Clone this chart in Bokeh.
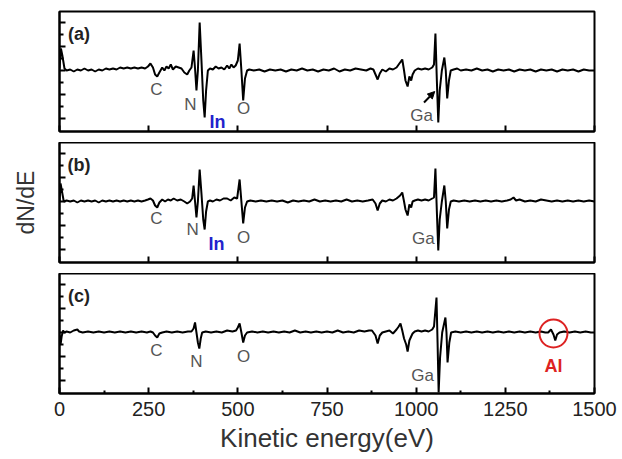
from bokeh.plotting import figure
from bokeh.layouts import column
from bokeh.models import Range1d, FixedTicker, Arrow, NormalHead
from bokeh.core.properties import value
from bokeh.embed import file_html
from bokeh.resources import INLINE

FONT = "Liberation Sans"

# ---------------- data ----------------
x_ticks = [0, 250, 500, 750, 1000, 1250, 1500]
x_tick_labels = ["0", "250", "500", "750", "1000", "1250", "1500"]
y_ticks = [-48, -24, 0, 24, 48]

energy_a = [0, 4, 8, 14, 20, 30, 40, 50, 60, 70, 80, 90, 100, 110, 120, 130, 140, 150, 160, 170,
            180, 190, 200, 210, 220, 230, 240, 248, 255, 262, 268, 274, 280, 288, 294, 300, 306, 312,
            318, 326, 334, 342, 350, 358, 364, 370, 376, 380, 384, 388, 393, 398, 403, 407, 411, 416,
            422, 430, 438, 446, 454, 462, 470, 476, 482, 488, 494, 500, 505, 510, 515, 520, 526, 532,
            545, 560, 575, 590, 605, 620, 635, 650, 665, 680, 695, 710, 725, 740, 755, 770, 785, 800,
            815, 830, 845, 860, 872, 880, 886, 892, 898, 905, 915, 925, 935, 945, 955, 961, 966, 970,
            976, 981, 986, 990, 996, 1005, 1015, 1025, 1035, 1045, 1050, 1054, 1058, 1062, 1066, 1072,
            1079, 1083, 1087, 1092, 1097, 1105, 1115, 1125, 1140, 1155, 1170, 1185, 1200, 1215, 1230,
            1245, 1260, 1275, 1290, 1305, 1320, 1335, 1350, 1365, 1380, 1395, 1410, 1425, 1440, 1455,
            1470, 1485, 1500]
dnde_a = [2, 22, 15, 2, 0, 1, -1, 1, 0, 2, 0, 1, -1, 1, 0, 2, 1, 2, 1, 3,
          2, 3, 2, 3, 2, 3, 2, 4, 7, 3, -4, -6, -2, 3, 0, 4, 2, 6,
          1, 4, 3, 2, -2, -4, 0, 3, 20, 2, -20, 0, 48, 10, -30, -47, -20, 0,
          2, 1, 4, 2, 3, 1, 5, 2, 6, 3, 5, 10, 27, 0, -30, -8, 0, 1,
          0, 1, -1, 1, 0, 1, -1, 1, 0, 2, 0, 1, -1, 1, 0, 2, -1, 1,
          0, 2, 1, 0, 2, 1, -4, -9, -3, 1, -1, 2, 1, 3, 8, 11, 0, -10,
          -16, -6, -10, -4, 0, 2, 1, 2, 1, 3, 6, 37, -10, -52, -20, 0,
          13, 0, -28, -10, 0, 1, 2, 0, 1, 0, 2, 0, 1, -1, 1,
          0, 1, -1, 1, 0, 1, -1, 1, 0, 1, -1, 1, 0, 1, -1,
          1, 0, 0]

energy_b = [0, 3, 7, 12, 20, 30, 40, 50, 60, 70, 80, 90, 100, 110, 120, 130, 140, 150, 160, 170,
            180, 190, 200, 210, 220, 230, 240, 248, 255, 262, 268, 274, 280, 288, 296, 304, 312, 320,
            330, 340, 350, 358, 366, 372, 376, 380, 384, 388, 393, 398, 403, 407, 411, 416, 422, 430,
            440, 450, 460, 470, 480, 490, 498, 505, 510, 515, 520, 526, 535, 550, 565, 580, 595, 610,
            625, 640, 655, 670, 685, 700, 715, 730, 745, 760, 775, 790, 805, 820, 835, 850, 865, 878,
            886, 892, 898, 905, 915, 925, 935, 945, 955, 961, 966, 970, 976, 981, 986, 990, 996, 1005,
            1015, 1025, 1035, 1045, 1050, 1054, 1058, 1062, 1066, 1072, 1079, 1083, 1087, 1092, 1097,
            1105, 1120, 1135, 1150, 1165, 1180, 1195, 1210, 1225, 1240, 1255, 1265, 1273, 1280, 1290,
            1305, 1320, 1335, 1350, 1365, 1380, 1395, 1410, 1425, 1440, 1455, 1470, 1485, 1500]
dnde_b = [0, 18, 10, 0, 1, 0, 1, -1, 1, 0, 1, 0, 1, -1, 1, 0, 1, 0, 1, 0,
          1, 0, 1, 0, 1, 0, 1, 2, 3, 1, -4, -6, -1, 2, 0, 2, 1, 3,
          1, 2, 0, -2, 0, 3, 16, 0, -16, 0, 32, 8, -18, -28, -10, 0, 1, 0,
          2, 1, 3, 3, 1, 4, 3, 22, 0, -22, -6, 0, 1, 0, 1, 0, 1, 0,
          1, -1, 1, 0, 1, 0, 2, 0, 1, 0, 1, 0, 2, 0, 1, 0, 1, 2,
          -2, -9, -2, 1, 0, 2, 1, 3, 6, 9, 0, -8, -14, -3, -6, 0, 1, 2,
          1, 2, 1, 3, 4, 33, -10, -49, -18, 0, 16, 0, -27, -8, 0,
          1, 0, 1, 0, 1, 0, 1, 0, 1, 0, 1, 2, 4, 1, 2,
          0, 1, 0, 2, 1, 0, 1, 0, 1, 0, 1, 0, 1, 0]

energy_c = [0, 3, 6, 10, 14, 20, 30, 40, 50, 55, 65, 80, 95, 110, 125, 140, 155, 170, 185, 200,
            215, 230, 245, 255, 262, 268, 274, 280, 288, 300, 315, 330, 345, 360, 370, 376, 380, 384,
            388, 392, 396, 400, 410, 425, 440, 455, 470, 485, 495, 500, 505, 510, 515, 520, 526, 540,
            555, 570, 585, 600, 615, 630, 645, 660, 675, 690, 705, 720, 735, 750, 765, 780, 795, 810,
            825, 840, 855, 868, 876, 886, 892, 898, 905, 915, 925, 935, 945, 951, 956, 961, 966, 972,
            976, 981, 986, 990, 996, 1005, 1015, 1025, 1035, 1045, 1050, 1057, 1060, 1063, 1067, 1073,
            1082, 1085, 1088, 1093, 1098, 1110, 1125, 1140, 1155, 1170, 1185, 1200, 1215, 1230, 1245,
            1260, 1275, 1290, 1305, 1320, 1335, 1350, 1362, 1370, 1378, 1385, 1390, 1395, 1402, 1415,
            1430, 1445, 1460, 1475, 1490, 1500]
dnde_c = [-2, -12, -4, 2, 0, 1, 0, 2, 3, 1, 0, 1, 0, 1, 0, 1, 0, 1, 0, 1,
          0, 1, 0, 1, 0, -3, -5, -1, 0, 1, 0, 1, 0, 1, 1, 4, 10, 0,
          -10, -16, -6, 0, 1, 0, 1, 0, 2, 1, 2, 5, 9, 0, -10, -3, 0, 1,
          0, 1, 0, 1, 0, 1, 0, 2, 0, 1, 0, 1, 0, 1, 0, 2, 0, 1,
          0, 2, 1, 2, 2, -3, -11, -3, 0, 1, 2, -1, 3, 6, 9, 2, -6, -12,
          -19, -8, -4, -1, 1, 2, 1, 2, 1, 3, 6, 35, -10, -60, -25, 0,
          15, 0, -30, -10, 0, 1, 0, 1, 0, 1, 0, 1, 0, 1, 0,
          1, 0, 1, 0, 1, 0, 1, 0, 0, 3, -2, -8, -2, 0, 1,
          0, 1, 0, 1, 0, 0]

# element labels: (text, energy, dN/dE position)
labels_a = (["C", "N", "O", "Ga"], [272, 367, 516, 1015], [-19, -34, -38, -45])
labels_b = (["C", "N", "O", "Ga"], [272, 373, 516, 1020], [-17, -28, -36, -37])
labels_c = (["C", "N", "O", "Ga"], [272, 384, 516, 1018], [-18, -29, -24, -43])
in_a = ([443], [-51])
in_b = ([440], [-42])
al_c = ([1385], [-33])
al_circle = ([1385], [-1])
panel_names = ["(a)", "(b)", "(c)"]
panel_pos = ([55], [37])

Y0, Y1 = -61, 59


def make_panel(energy, dnde, name, bottom_border, top_border, show_xlabels=False, ylabel=None):
    p = figure(frame_width=535, frame_height=120, output_backend="svg", toolbar_location=None,
               x_range=Range1d(0, 1500), y_range=Range1d(Y0, Y1),
               min_border_left=59, min_border_right=28, min_border_top=top_border,
               min_border_bottom=bottom_border, background_fill_color="white",
               border_fill_color="white")
    p.grid.visible = False
    p.outline_line_color = "black"
    p.outline_line_width = 2
    p.line(energy, dnde, line_color="black", line_width=2)

    xa = p.xaxis[0]
    xa.ticker = FixedTicker(ticks=x_ticks, minor_ticks=[125, 375, 625, 875, 1125, 1375] if show_xlabels else [])
    xa.axis_line_width = 2
    xa.major_tick_out = 0
    xa.major_tick_in = 6
    xa.minor_tick_out = 0
    xa.minor_tick_in = 3
    xa.major_tick_line_width = 2
    xa.minor_tick_line_width = 2
    if show_xlabels:
        xa.major_label_overrides = {t: l for t, l in zip(x_ticks, x_tick_labels)}
        xa.major_label_text_font = FONT
        xa.major_label_text_font_size = "20px"
        xa.major_label_text_color = "#222222"
        xa.major_label_standoff = 8
        xa.axis_label = "Kinetic energy(eV)"
        xa.axis_label_text_font = FONT
        xa.axis_label_text_font_size = "26px"
        xa.axis_label_text_font_style = "normal"
        xa.axis_label_text_color = "#333333"
        xa.axis_label_standoff = 4
    else:
        xa.major_label_overrides = {t: "" for t in x_ticks}
        xa.major_label_standoff = 0

    ya = p.yaxis[0]
    ya.ticker = FixedTicker(ticks=y_ticks, minor_ticks=[-36, -12, 12, 36])
    ya.axis_line_width = 2
    ya.major_tick_out = 0
    ya.major_tick_in = 6
    ya.minor_tick_out = 0
    ya.minor_tick_in = 4
    ya.major_tick_line_width = 2
    ya.minor_tick_line_width = 2
    ya.major_label_overrides = {t: "" for t in y_ticks}
    ya.major_label_standoff = 0
    if ylabel:
        ya.axis_label = ylabel
        ya.axis_label_text_font = FONT
        ya.axis_label_text_font_size = "23px"
        ya.axis_label_text_font_style = "normal"
        ya.axis_label_text_color = "#333333"
        ya.axis_label_standoff = 21

    p.text(x=panel_pos[0], y=panel_pos[1], text=[name], text_font=value(FONT),
           text_font_size="18px", text_font_style="bold", text_color="#222222",
           text_align="center", text_baseline="middle")
    return p


def add_labels(p, labs):
    p.text(x=labs[1], y=labs[2], text=labs[0], text_font=value(FONT), text_font_size="17px",
           text_color="#555555", text_align="center", text_baseline="middle")


pa = make_panel(energy_a, dnde_a, panel_names[0], 11, 11)
add_labels(pa, labels_a)
pa.text(x=in_a[0], y=in_a[1], text=["In"], text_font=value(FONT), text_font_size="18px",
        text_font_style="bold", text_color="#2222cc", text_align="center", text_baseline="middle")
pa.add_layout(Arrow(end=NormalHead(size=7, fill_color="black", line_color="black"),
                    x_start=1022, y_start=-32, x_end=1052, y_end=-21,
                    line_color="black", line_width=2))

pb = make_panel(energy_b, dnde_b, panel_names[1], 11, 0, ylabel="dN/dE")
add_labels(pb, labels_b)
pb.text(x=in_b[0], y=in_b[1], text=["In"], text_font=value(FONT), text_font_size="18px",
        text_font_style="bold", text_color="#2222cc", text_align="center", text_baseline="middle")

pc = make_panel(energy_c, dnde_c, panel_names[2], 66, 0, show_xlabels=True)
add_labels(pc, labels_c)
pc.scatter(x=al_circle[0], y=al_circle[1], size=28, marker="circle", fill_color=None,
           line_color="#dd2222", line_width=2)
pc.text(x=al_c[0], y=al_c[1], text=["Al"], text_font=value(FONT), text_font_size="18px",
        text_font_style="bold", text_color="#dd2222", text_align="center", text_baseline="middle")

layout = column(pa, pb, pc, spacing=0)
open("out.html", "w").write(file_html(layout, INLINE))
